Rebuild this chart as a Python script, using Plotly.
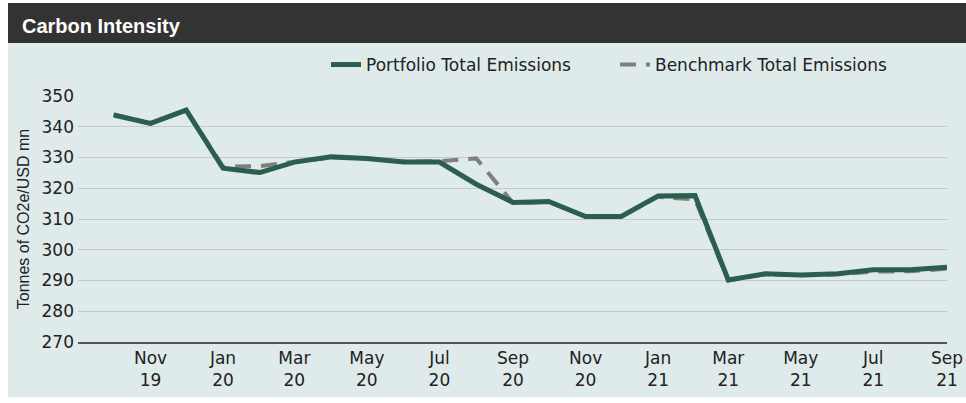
import plotly.graph_objects as go

# monthly data, Oct 2019 .. Sep 2021
months = ["2019-10-01", "2019-11-01", "2019-12-01", "2020-01-01", "2020-02-01", "2020-03-01",
          "2020-04-01", "2020-05-01", "2020-06-01", "2020-07-01", "2020-08-01", "2020-09-01",
          "2020-10-01", "2020-11-01", "2020-12-01", "2021-01-01", "2021-02-01", "2021-03-01",
          "2021-04-01", "2021-05-01", "2021-06-01", "2021-07-01", "2021-08-01", "2021-09-01"]

portfolio = [343.8, 341.1, 345.4, 326.5, 325.1, 328.5, 330.2, 329.7, 328.5, 328.5, 321.3, 315.4,
             315.7, 310.8, 310.8, 317.5, 317.6, 290.2, 292.2, 291.8, 292.2, 293.5, 293.5, 294.3]

benchmark = [344.0, 341.0, 345.5, 327.0, 327.2, 328.6, 330.0, 329.7, 328.6, 328.8, 329.7, 315.2,
             315.5, 310.8, 310.8, 317.2, 316.4, 290.0, 292.0, 291.7, 292.0, 292.9, 293.0, 293.8]

tick_vals = ["2019-11-01", "2020-01-01", "2020-03-01", "2020-05-01", "2020-07-01", "2020-09-01",
             "2020-11-01", "2021-01-01", "2021-03-01", "2021-05-01", "2021-07-01", "2021-09-01"]
tick_text = ["Nov<br>19", "Jan<br>20", "Mar<br>20", "May<br>20", "Jul<br>20", "Sep<br>20",
             "Nov<br>20", "Jan<br>21", "Mar<br>21", "May<br>21", "Jul<br>21", "Sep<br>21"]

GREEN = "#2b5f4d"
GREY = "#7f7f7f"
PANEL = "#dfeaea"
FONT = "DejaVu Sans"

fig = go.Figure()
fig.add_trace(go.Scatter(x=months, y=benchmark, mode="lines", name="Benchmark Total Emissions",
                         line=dict(color=GREY, width=4, dash="16px,10px"), legendrank=2))
fig.add_trace(go.Scatter(x=months, y=portfolio, mode="lines", name="Portfolio Total Emissions",
                         line=dict(color=GREEN, width=5), legendrank=1))

# plot area in pixels: x 78..947, y 96..342
L, R, T, B = 78, 947, 96, 342
W, H = R - L, B - T


def px_x(p):
    return (p - L) / W


def px_y(p):
    return (B - p) / H


fig.update_layout(
    width=966, height=403,
    margin=dict(l=L, r=966 - R, t=T, b=403 - B, autoexpand=False),
    paper_bgcolor="white",
    plot_bgcolor=PANEL,
    font=dict(family=FONT, size=17, color="#222"),
    showlegend=True,
    legend=dict(orientation="h", x=px_x(326), y=px_y(65), xanchor="left", yanchor="middle",
                bgcolor="rgba(0,0,0,0)", font=dict(family=FONT, size=17, color="#222"),
                entrywidth=244, traceorder="normal"),
    shapes=[
        dict(type="rect", xref="paper", yref="paper", layer="below",
             x0=px_x(8), x1=px_x(966), y0=px_y(397), y1=px_y(43),
             fillcolor=PANEL, line=dict(width=0)),
        dict(type="rect", xref="paper", yref="paper", layer="below",
             x0=px_x(8), x1=px_x(966), y0=px_y(43), y1=px_y(3),
             fillcolor="#333333", line=dict(width=0)),
    ],
    annotations=[
        dict(text="<b>Carbon Intensity</b>", xref="paper", yref="paper",
             x=px_x(20), y=px_y(26), xanchor="left", yanchor="middle", showarrow=False,
             font=dict(family="Liberation Sans", size=20, color="white")),
    ],
)

fig.update_xaxes(
    type="date", range=["2019-09-01", "2021-09-01"],
    tickvals=tick_vals, ticktext=tick_text, automargin=False,
    showgrid=False, showline=True, linecolor="#555", linewidth=1.5,
    ticks="", tickfont=dict(family=FONT, size=17, color="#222"),
)
fig.update_yaxes(
    range=[270, 350], dtick=10, tick0=270, automargin=False,
    showgrid=True, gridcolor="#c6c9c9", gridwidth=1.2,
    zeroline=False, ticks="", ticklabelstandoff=3,
    tickfont=dict(family=FONT, size=17, color="#222"),
    title=dict(text="Tonnes of CO2e/USD mn", standoff=7,
               font=dict(family="Liberation Sans", size=16, color="#222")),
)

# page body margin off so the figure sits at the window's corner
fig.write_html("out.html", config={"displayModeBar": False},
               post_script="document.body.style.margin='0px';")
